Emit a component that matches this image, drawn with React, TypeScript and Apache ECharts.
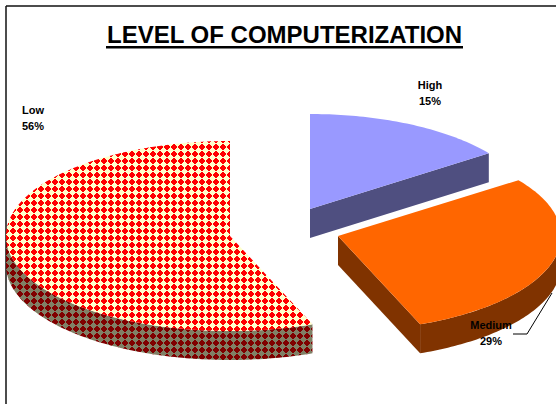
import React, { useEffect, useRef } from "react";
import * as echarts from "echarts";

// Survey shares per computerization level, in percent.
const levels = ["High", "Medium", "Low"];
const shares = [15, 29, 56];

const chartTitle = "LEVEL OF COMPUTERIZATION";

// Exploded-pie layout: each slice has its own centre and horizontal radius.
const RY = 95;
const DEPTH = 29;
const sliceCentres = [
  [310, 209],
  [338, 236],
  [230, 236],
];
const sliceRadii = [221, 223, 224];
const labelAnchors = [
  [430, 93],
  [491, 333],
  [33, 118],
];
const topColours = ["#9999FF", "#FF6600", "low"];
const sideColours = ["#4F4F80", "#803300", "lowSide"];

// Tile of stepped diamonds used for the "Low" slice.
function dotTile(bg: string, fg: string) {
  const c = document.createElement("canvas");
  c.width = 7;
  c.height = 7;
  const g = c.getContext("2d")!;
  g.fillStyle = bg;
  g.fillRect(0, 0, 7, 7);
  g.fillStyle = fg;
  const rowWidths = [2, 4, 6, 6, 4, 2];
  rowWidths.forEach((w, r) => {
    const y = (r - 3 + 7) % 7;
    for (let k = 0; k < w; k++) {
      g.fillRect((6 - w / 2 + k + 7) % 7, y, 1, 1);
    }
  });
  return { image: c, repeat: "repeat" };
}

// Point on the tilted ellipse, angle in degrees clockwise from 12 o'clock.
function rim(cx: number, cy: number, rx: number, deg: number, dy = 0) {
  const a = (deg * Math.PI) / 180;
  return [cx + rx * Math.sin(a), cy - RY * Math.cos(a) + dy];
}

function arc(cx: number, cy: number, rx: number, from: number, to: number, dy = 0) {
  const pts: number[][] = [];
  const n = Math.max(2, Math.ceil(Math.abs(to - from)));
  for (let i = 0; i <= n; i++) pts.push(rim(cx, cy, rx, from + ((to - from) * i) / n, dy));
  return pts;
}

export default function App() {
  const ref = useRef<HTMLDivElement>(null);

  useEffect(() => {
    const chart = echarts.init(ref.current!, null, { renderer: "svg" });
    const fills: Record<string, any> = {
      low: dotTile("#FFFFCC", "#FF0000"),
      lowSide: dotTile("#808066", "#800000"),
    };
    const paint = (c: string) => fills[c] || c;
    const total = shares.reduce((s, v) => s + v, 0);

    const renderItem = (params: any, api: any) => {
      const i = params.dataIndex;
      const before = shares.slice(0, i).reduce((s, v) => s + v, 0);
      const a0 = (before / total) * 360;
      const a1 = a0 + (api.value(1) / total) * 360;
      const [cx, cy] = sliceCentres[i];
      const rx = sliceRadii[i];
      const children: any[] = [];
      const side = paint(sideColours[i]);

      // Outer wall: only the part of the rim facing the viewer.
      const w0 = Math.max(a0, 90);
      const w1 = Math.min(a1, 270);
      if (w1 > w0) {
        children.push({
          type: "polygon",
          shape: { points: [...arc(cx, cy, rx, w0, w1), ...arc(cx, cy, rx, w1, w0, DEPTH)] },
          style: { fill: side },
        });
      }
      // Cut face along the slice's trailing radius.
      if (a1 < 180) {
        const e = rim(cx, cy, rx, a1);
        children.push({
          type: "polygon",
          shape: { points: [[cx, cy], e, [e[0], e[1] + DEPTH], [cx, cy + DEPTH]] },
          style: { fill: side },
        });
      }
      // Top face.
      children.push({
        type: "polygon",
        shape: { points: [[cx, cy], ...arc(cx, cy, rx, a0, a1)] },
        style: { fill: paint(topColours[i]) },
      });
      // Leader line for the label that sits on its own slice.
      if (levels[i] === "Medium") {
        children.push({
          type: "polyline",
          shape: { points: [[513, 334], [527, 334], [552, 293]] },
          style: { fill: "none", stroke: "#000", lineWidth: 1 },
        });
      }
      const [lx, ly] = labelAnchors[i];
      children.push({
        type: "text",
        x: lx,
        y: ly,
        style: {
          text: `${levels[i]}\n${api.value(1)}%`,
          fill: "#000",
          font: 'bold 11px "Liberation Sans", Arial, sans-serif',
          lineHeight: 16,
          align: "center",
          verticalAlign: "middle",
        },
      });
      return { type: "group", children };
    };

    chart.setOption({
      animation: false,
      backgroundColor: "#fff",
      title: {
        text: chartTitle,
        left: 107,
        top: 22,
        padding: 0,
        textStyle: {
          fontFamily: '"Liberation Sans", Arial, sans-serif',
          fontWeight: "bold",
          fontSize: 24,
          color: "#000",
        },
      },
      graphic: [
        { type: "rect", shape: { x: 106, y: 46, width: 357, height: 2.4 }, style: { fill: "#000" } },
        { type: "line", shape: { x1: 6, y1: 6, x2: 556, y2: 6 }, style: { stroke: "#111", lineWidth: 1.5 } },
        { type: "line", shape: { x1: 6, y1: 6, x2: 6, y2: 404 }, style: { stroke: "#111", lineWidth: 1.5 } },
      ],
      series: [
        {
          type: "custom",
          coordinateSystem: "none",
          renderItem,
          data: levels.map((name, i) => [name, shares[i]]),
        },
      ],
    });
    return () => chart.dispose();
  }, []);

  return (
    <div
      ref={ref}
      style={{ position: "fixed", left: 0, top: 0, width: 556, height: 404 }}
    />
  );
}
